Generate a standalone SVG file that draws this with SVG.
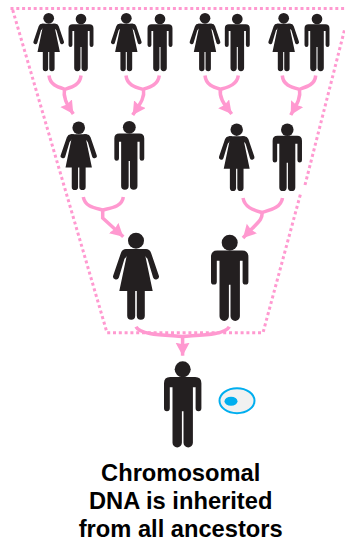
<svg xmlns="http://www.w3.org/2000/svg" width="345" height="541" viewBox="0 0 345 541">
<style>
.c{fill:none;stroke:#ff99d0;stroke-width:3.5}
.d{fill:none;stroke:#ff99d0;stroke-width:3;stroke-dasharray:3 2.8}
.t{font-family:"Liberation Sans",Arial,sans-serif;font-size:23.7px;font-weight:bold;fill:#000;text-anchor:middle}
</style>
<defs>
<marker id="a" markerUnits="userSpaceOnUse" markerWidth="15" markerHeight="15" refX="13" refY="7" orient="auto"><path d="M0,0L13,7L0,14L1.5,7z" fill="#ff99d0"/></marker>
<g id="man" fill="#231f20">
<circle cx="0" cy="0" r="8"/>
<path d="M-12.5,7.7H12.5Q18.7,7.7 18.7,14V39A2.9,2.9 0 0 1 12.9,39V18H10.2V73.5A4.7,4.7 0 0 1 .8,73.5V42H-.8V73.5A4.7,4.7 0 0 1 -10.2,73.5V18H-12.9V39A2.9,2.9 0 0 1 -18.7,39V14Q-18.7,7.7 -12.5,7.7Z"/>
</g>
<g id="woman" fill="#231f20">
<circle cx="0" cy="0" r="8"/>
<path d="M-10,8.3H10L9.5,16L16.7,50.3H8.8V75A4,4 0 0 1 .8,75V50.3H-.8V75A4,4 0 0 1 -8.8,75V50.3H-16.7L-9.5,16Z"/>
<path d="M-10,8.3Q-13.5,8.3 -15,12L-22.7,34.5A2.9,2.9 0 0 0 -17.1,36.8L-11.5,18L-9.5,16L-6,8.3ZM10,8.3Q13.5,8.3 15,12L22.7,34.5A2.9,2.9 0 0 1 17.1,36.8L11.5,18L9.5,16L6,8.3Z"/>
</g>
</defs>
<g id="outline"><path class="d" d="M10.5,8.5H345M12.7,10L107,332.7H263L300.5,194M305,185L345,28"/></g>
<g id="connectors">
<path class="c" d="M49,75.5C50,85 58,87 65,89.3C72,87 80,85 81,75.5"/>
<path class="c" marker-end="url(#a)" d="M64.5,89C63,97 66,103 73.3,114"/>
<path class="c" d="M126,75.5C127,85 135,87 143,89.3C150,87 158,85 159.3,75.5"/>
<path class="c" marker-end="url(#a)" d="M143.5,89C145,98 140,104 132.7,115"/>
<path class="c" d="M205,75.5C206,85 213,87 220.7,89.3C228,87 237,85 238.3,75.5"/>
<path class="c" marker-end="url(#a)" d="M220.5,89C219,97 223,103 231.7,114"/>
<path class="c" d="M282.3,75.5C283,85 291,87 299.3,89.3C306,87 315,85 315.7,75.5"/>
<path class="c" marker-end="url(#a)" d="M299.5,89C301,98 297,104 290.7,115"/>
<path class="c" d="M83.3,197C85,207 95,208 102.7,210C111,208 122,207 123.3,197"/>
<path class="c" marker-end="url(#a)" d="M102.7,210V218L123.3,236.7"/>
<path class="c" d="M243,198C245,208 254,210 262,212.5C270,210 281,208 282.5,198"/>
<path class="c" marker-end="url(#a)" d="M262,212C263,220 258,222 243,238"/>
<path class="c" d="M136,326.7C140,335 165,335 182.5,336.5C200,335 225,335 229.3,326.7"/>
<path class="c" marker-end="url(#a)" d="M182.6,336V355.7"/>
</g>
<use id="p1" href="#woman" transform="translate(48.7 18.3) scale(.67)"/>
<use id="p2" href="#man" transform="translate(81 19) scale(.667)"/>
<use id="p3" href="#woman" transform="translate(126.3 18.3) scale(.67)"/>
<use id="p4" href="#man" transform="translate(160 19) scale(.667)"/>
<use id="p5" href="#woman" transform="translate(205 18.3) scale(.67)"/>
<use id="p6" href="#man" transform="translate(237.3 19) scale(.667)"/>
<use id="p7" href="#woman" transform="translate(283.7 18.3) scale(.67)"/>
<use id="p8" href="#man" transform="translate(317 19) scale(.667)"/>
<use id="p9" href="#woman" transform="translate(78.7 127.7) scale(.79)"/>
<use id="p10" href="#man" transform="translate(129.3 127.3) scale(.8)"/>
<use id="p11" href="#woman" transform="translate(236.7 129.7) scale(.776)"/>
<use id="p12" href="#man" transform="translate(287.3 129.7) scale(.785)"/>
<use id="p13" href="#woman" transform="translate(136 240.7)"/>
<use id="p14" href="#man" transform="translate(229.7 242.7)"/>
<use id="p15" href="#man" transform="translate(182.7 369.3)"/>
<g id="cell">
<ellipse cx="237" cy="400.7" rx="17.5" ry="12.5" fill="#f1f1f1" stroke="#00aeef" stroke-width="2"/>
<ellipse cx="231" cy="401.3" rx="6.5" ry="4.5" fill="#00aeef"/>
</g>
<g id="caption">
<text class="t" x="180.7" y="481.3">Chromosomal</text>
<text class="t" x="180.7" y="509.2">DNA is inherited</text>
<text class="t" x="180.7" y="536.7">from all ancestors</text>
</g>
</svg>
